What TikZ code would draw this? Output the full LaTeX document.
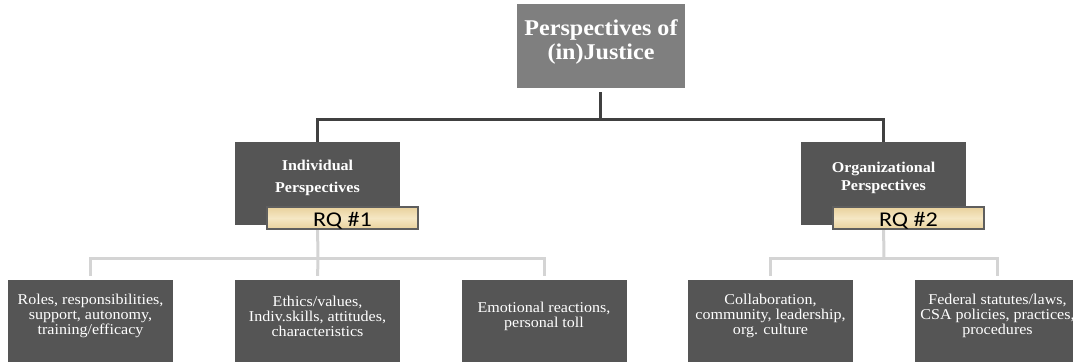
\documentclass[tikz,border=0pt]{standalone}
\usepackage{fontspec}
\setmainfont[FakeStretch=1.07]{Liberation Serif}
\newfontfamily\rqfont[FakeStretch=1.15]{Carlito}
\definecolor{topgray}{HTML}{7F7F7F}
\definecolor{boxgray}{HTML}{555555}
\definecolor{darkline}{HTML}{404040}
\definecolor{lightline}{HTML}{D4D4D4}
\definecolor{tanA}{HTML}{E9D19C}
\definecolor{tanB}{HTML}{F5E7C4}
\definecolor{rqborder}{HTML}{5E5E5E}
\tikzset{
  topbox/.style={rectangle, fill=topgray, draw=none, inner sep=0pt},
  midbox/.style={rectangle, fill=boxgray, draw=none, inner sep=0pt, minimum width=165pt, minimum height=83pt},
  botbox/.style={rectangle, fill=boxgray, draw=none, inner sep=0pt, minimum width=165pt, minimum height=82pt},
  toptxt/.style={text=white, align=center, inner sep=0pt, font=\bfseries\fontsize{22.5}{24}\selectfont},
  midtxt/.style={text=white, align=center, inner sep=0pt, font=\bfseries\fontsize{15}{22}\selectfont},
  bottxt/.style={text=white, align=center, inner sep=0pt, font=\fontsize{15}{15}\selectfont},
  rqbox/.style={rectangle, draw=rqborder, line width=1.5pt, top color=tanA, bottom color=tanA, middle color=tanB, inner sep=0pt, minimum width=151pt, minimum height=22pt, text height=17pt, text depth=0pt, font=\rqfont\fontsize{21}{21}\selectfont, text=black},
  darkconn/.style={draw=darkline, line width=3pt},
  lightconn/.style={draw=lightline, line width=3pt, shorten >=4pt},
}
\begin{document}
\begin{tikzpicture}[x=1pt,y=-1pt]
\useasboundingbox (0,0) rectangle (1073,362);
% top
\node[topbox, minimum width=168pt, minimum height=84pt] (top) at (601,46) {};
\node[toptxt] (toptext) at (601,41.5) {Perspectives of\\(in)Justice};
% middle
\node[midbox] (ind) at (317.5,183.5) {};
\node[midtxt] (indtext) at (317.5,177.5) {Individual\\Perspectives};
\node[midbox] (org) at (883.5,183.5) {};
\node[midtxt, font=\bfseries\fontsize{15}{18}\selectfont] (orgtext) at (883.5,177.5) {Organizational\\Perspectives};
% bottom
\node[botbox] (b1) at (90.5,321) {};
\node[botbox] (b2) at (317.5,321) {};
\node[botbox] (b3) at (544,321) {};
\node[botbox] (b4) at (770.5,321) {};
\node[botbox] (b5) at (997.5,321) {};
\node[bottxt] (t1) at (90.5,316) {Roles, responsibilities,\\support, autonomy,\\training/efficacy};
\node[bottxt] (t2) at (317.5,316) {Ethics/values,\\Indiv.skills, attitudes,\\characteristics};
\node[bottxt] (t3) at (544,316) {Emotional reactions,\\personal toll};
\node[bottxt] (t4) at (770.5,316) {Collaboration,\\community, leadership,\\org. culture};
\node[bottxt] (t5) at (997.5,316) {Federal statutes/laws,\\CSA policies, practices,\\procedures};
% connectors
\coordinate (j0) at (600,119.5);
\coordinate (j1) at (318,258);
\coordinate (j2) at (884,258);
\draw[darkconn] ([yshift=-4pt]top.south -| j0) -- (j0);
\draw[darkconn] (j0) -| (ind.north);
\draw[darkconn] (j0) -| (org.north);
\draw[lightconn, shorten >=0pt] (ind.south) -- (j1);
\draw[lightconn] (j1) -| (b1.north);
\draw[lightconn] (j1) -- (b2.north);
\draw[lightconn] (j1) -| (b3.north);
\draw[lightconn, shorten >=0pt] (org.south) -- (j2);
\draw[lightconn] (j2) -| (b4.north);
\draw[lightconn] (j2) -| (b5.north);
% RQ labels
\node[rqbox] (rq1) at (342.5,218) {RQ \#1};
\node[rqbox] (rq2) at (908.5,218) {RQ \#2};
\end{tikzpicture}
\end{document}
